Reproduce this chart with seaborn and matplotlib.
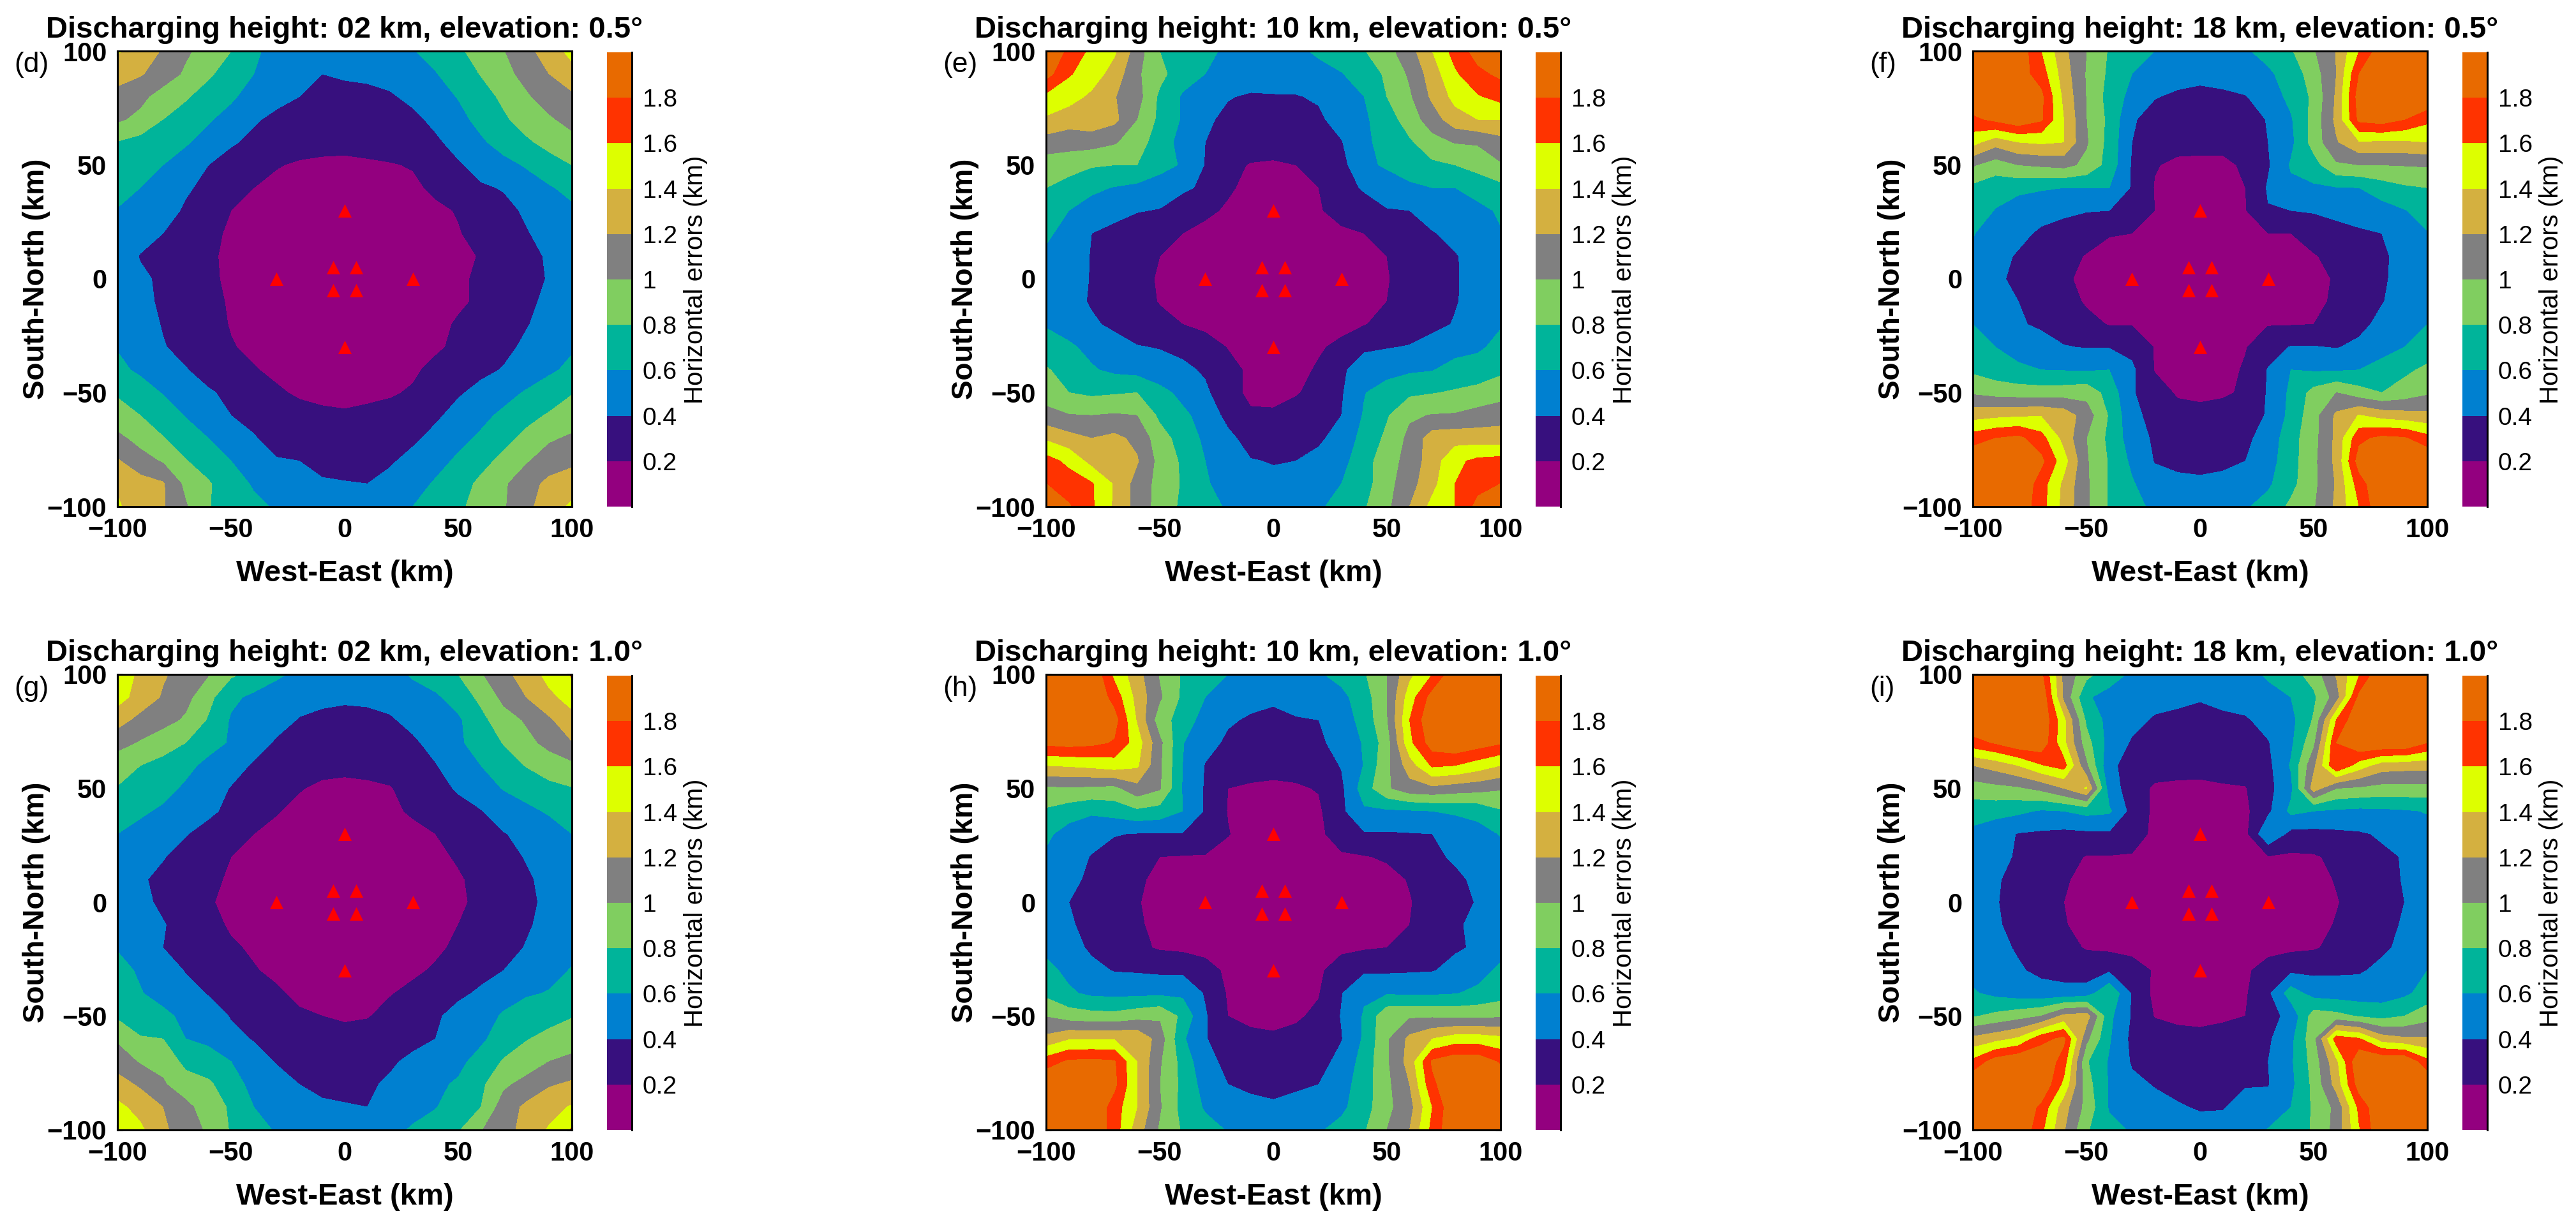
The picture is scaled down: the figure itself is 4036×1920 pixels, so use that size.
#!/usr/bin/env python3
"""Horizontal location error maps for six discharge heights / elevations."""
import numpy as np
import matplotlib
matplotlib.use('Agg')
import matplotlib.pyplot as plt
from matplotlib.colors import ListedColormap
from matplotlib.ticker import MultipleLocator
import seaborn as sns

X_GRID = [-100, -90, -80, -70, -60, -50, -40, -30, -20, -10, 0, 10, 20, 30, 40, 50, 60, 70, 80, 90, 100]
Y_GRID = [100, 90, 80, 70, 60, 50, 40, 30, 20, 10, 0, -10, -20, -30, -40, -50, -60, -70, -80, -90, -100]
LEVELS = [0, .2, .4, .6, .8, 1, 1.2, 1.4, 1.6, 1.8, 2]
LEVEL_COLORS = ['#93007f', '#37107e', '#0080d0', '#00b49a', '#80ce60',
                '#808080', '#d4b040', '#ddff00', '#ff3300', '#e86a00']
BAR_TICKS = [.2, .4, .6, .8, 1, 1.2, 1.4, 1.6, 1.8]
BAR_LABELS = ['0.2', '0.4', '0.6', '0.8', '1', '1.2', '1.4', '1.6', '1.8']
STATION_X = [-30, 30, 0, 0, -5, 5, -5, 5]
STATION_Y = [0, 0, 30, -30, 5, 5, -5, -5]

# errors in 0.01 km, rows follow Y_GRID, columns follow X_GRID
Z_D = [[142, 132, 118, 103, 92, 80, 62, 56, 52, 48, 46, 48, 52, 59, 67, 77, 87, 99, 114, 130, 146],
       [127, 122, 110, 97, 83, 71, 60, 54, 48, 40, 42, 43, 46, 52, 59, 69, 81, 93, 107, 120, 133],
       [114, 105, 92, 82, 72, 63, 52, 45, 40, 37, 35, 36, 38, 44, 52, 61, 72, 84, 97, 110, 116],
       [103, 95, 80, 72, 62, 53, 42, 36, 32, 30, 29, 30, 32, 36, 44, 54, 66, 77, 88, 97, 107],
       [79, 73, 69, 62, 53, 42, 36, 31, 27, 25, 24, 25, 27, 31, 37, 46, 57, 68, 77, 86, 93],
       [73, 67, 60, 52, 40, 33, 26, 21, 18, 17, 17, 18, 19, 21, 31, 38, 46, 54, 62, 72, 80],
       [67, 60, 52, 42, 36, 29, 20, 16, 14, 14, 14, 14, 15, 17, 23, 33, 38, 41, 50, 58, 66],
       [59, 53, 46, 38, 30, 20, 16, 13, 11, 11, 11, 11, 12, 14, 17, 21, 29, 36, 42, 50, 56],
       [55, 48, 40, 33, 25, 17, 14, 11, 9, 8, 8, 8, 9, 11, 14, 19, 25, 32, 39, 45, 52],
       [52, 39, 33, 29, 23, 16, 12, 9, 7, 6, 6, 6, 7, 8, 11, 16, 21, 28, 35, 42, 50],
       [48, 43, 37, 31, 24, 16, 12, 9, 7, 6, 5, 5, 6, 8, 11, 17, 23, 29, 35, 41, 48],
       [52, 45, 37, 31, 25, 18, 13, 10, 8, 7, 6, 7, 8, 10, 13, 17, 23, 29, 35, 45, 50],
       [54, 47, 39, 33, 26, 19, 15, 12, 10, 9, 8, 9, 10, 12, 15, 22, 28, 33, 39, 46, 52],
       [59, 52, 41, 35, 29, 21, 17, 14, 12, 11, 10, 11, 12, 14, 17, 24, 30, 36, 43, 50, 58],
       [64, 57, 49, 41, 33, 26, 21, 17, 15, 14, 13, 14, 15, 17, 25, 31, 36, 41, 48, 57, 64],
       [78, 68, 59, 50, 42, 36, 27, 22, 18, 16, 15, 16, 18, 22, 31, 38, 45, 53, 62, 69, 79],
       [87, 80, 70, 59, 50, 40, 36, 30, 25, 23, 22, 24, 26, 31, 37, 46, 55, 64, 74, 82, 89],
       [105, 93, 81, 69, 60, 50, 41, 35, 30, 28, 27, 29, 31, 37, 45, 55, 63, 74, 85, 97, 103],
       [122, 108, 98, 81, 71, 60, 50, 41, 40, 35, 33, 35, 38, 45, 54, 63, 74, 85, 98, 110, 115],
       [138, 128, 122, 95, 82, 68, 58, 49, 45, 42, 41, 40, 45, 53, 62, 72, 84, 97, 112, 125, 132],
       [142, 132, 122, 102, 81, 72, 64, 58, 53, 49, 47, 48, 52, 60, 68, 76, 88, 98, 114, 132, 143]]
Z_E = [[200, 175, 155, 143, 110, 80, 72, 64, 57, 53, 50, 56, 63, 71, 79, 93, 112, 140, 168, 188, 200],
       [188, 162, 150, 132, 103, 86, 68, 60, 54, 49, 47, 49, 54, 59, 70, 83, 103, 130, 157, 175, 184],
       [155, 148, 136, 121, 108, 76, 58, 50, 41, 38, 39, 39, 42, 52, 60, 80, 97, 124, 146, 158, 167],
       [137, 129, 133, 125, 100, 75, 58, 43, 36, 33, 33, 34, 37, 47, 57, 70, 90, 110, 132, 140, 140],
       [111, 108, 108, 102, 89, 70, 53, 40, 33, 28, 27, 29, 33, 39, 56, 67, 77, 93, 101, 102, 112],
       [90, 88, 82, 80, 80, 67, 58, 39, 24, 19, 18, 20, 25, 34, 55, 63, 73, 76, 80, 88, 98],
       [80, 72, 64, 59, 55, 50, 42, 38, 22, 16, 13, 15, 20, 33, 42, 48, 55, 60, 60, 66, 74],
       [67, 60, 52, 47, 41, 39, 34, 23, 18, 13, 10, 12, 19, 24, 32, 39, 40, 47, 52, 56, 62],
       [63, 54, 40, 34, 30, 25, 20, 16, 12, 9, 8, 9, 12, 18, 20, 28, 34, 39, 44, 52, 59],
       [57, 49, 39, 33, 28, 20, 16, 12, 9, 7, 6, 7, 9, 12, 16, 20, 27, 33, 39, 45, 53],
       [52, 47, 39, 31, 26, 18, 15, 11, 8, 6, 5, 6, 8, 11, 15, 19, 26, 32, 39, 44, 50],
       [50, 47, 38, 33, 27, 19, 17, 12, 9, 7, 6, 7, 9, 12, 16, 20, 27, 33, 39, 45, 52],
       [58, 52, 43, 36, 30, 25, 20, 14, 11, 9, 8, 9, 12, 15, 19, 26, 31, 36, 41, 50, 58],
       [70, 63, 55, 48, 41, 39, 34, 31, 19, 13, 11, 12, 18, 24, 38, 39, 41, 46, 52, 56, 67],
       [82, 72, 62, 56, 53, 48, 45, 37, 27, 16, 13, 15, 22, 38, 46, 52, 57, 59, 68, 71, 76],
       [90, 80, 76, 78, 80, 66, 55, 44, 25, 17, 16, 19, 24, 38, 59, 70, 76, 79, 82, 85, 91],
       [107, 101, 100, 102, 100, 76, 64, 53, 34, 22, 22, 25, 28, 40, 62, 78, 97, 101, 102, 108, 113],
       [137, 127, 120, 125, 115, 88, 72, 56, 45, 32, 30, 33, 37, 47, 67, 84, 105, 130, 132, 130, 128],
       [168, 155, 133, 128, 122, 93, 77, 60, 44, 41, 39, 40, 45, 53, 73, 90, 108, 130, 155, 165, 168],
       [180, 170, 162, 138, 112, 93, 78, 62, 53, 47, 44, 46, 52, 60, 72, 93, 112, 134, 160, 173, 180],
       [192, 182, 163, 137, 112, 92, 76, 66, 58, 53, 50, 52, 58, 65, 78, 95, 120, 146, 160, 186, 198]]
Z_F = [[210, 205, 195, 160, 125, 100, 78, 68, 60, 53, 47, 50, 58, 66, 78, 98, 121, 160, 192, 205, 210],
       [210, 205, 190, 170, 130, 98, 76, 60, 52, 47, 44, 46, 52, 57, 68, 90, 120, 180, 205, 205, 205],
       [205, 205, 195, 185, 135, 99, 72, 54, 41, 37, 36, 37, 39, 50, 65, 84, 123, 190, 205, 205, 205],
       [175, 185, 195, 183, 140, 100, 75, 42, 33, 31, 31, 31, 33, 41, 58, 87, 125, 185, 190, 180, 165],
       [147, 128, 140, 143, 140, 102, 73, 40, 30, 25, 24, 24, 29, 40, 55, 88, 118, 138, 137, 137, 140],
       [102, 90, 100, 103, 106, 95, 72, 38, 21, 17, 17, 17, 22, 38, 62, 72, 97, 100, 100, 101, 102],
       [75, 68, 65, 62, 60, 60, 60, 38, 19, 15, 14, 14, 20, 42, 56, 57, 59, 60, 70, 77, 80],
       [70, 59, 50, 47, 45, 41, 40, 38, 20, 11, 10, 11, 19, 39, 40, 42, 47, 49, 52, 59, 68],
       [61, 51, 45, 37, 30, 27, 21, 20, 14, 9, 8, 9, 15, 20, 20, 26, 31, 37, 40, 50, 59],
       [57, 46, 38, 31, 25, 19, 15, 12, 10, 7, 6, 7, 10, 13, 15, 19, 24, 30, 37, 46, 54],
       [54, 44, 35, 29, 22, 17, 13, 11, 9, 6, 5, 6, 9, 11, 13, 17, 21, 29, 38, 45, 52],
       [56, 46, 40, 33, 27, 18, 14, 11, 10, 7, 6, 7, 10, 12, 14, 17, 22, 30, 39, 48, 55],
       [60, 52, 42, 37, 31, 25, 19, 19, 14, 9, 8, 9, 15, 19, 19, 20, 28, 35, 45, 53, 60],
       [67, 60, 54, 48, 41, 39, 39, 34, 19, 11, 10, 11, 19, 32, 41, 41, 39, 44, 52, 60, 69],
       [76, 69, 63, 60, 59, 58, 60, 44, 19, 14, 13, 14, 22, 41, 60, 58, 58, 60, 68, 76, 84],
       [97, 92, 90, 89, 90, 93, 72, 42, 28, 18, 17, 18, 22, 42, 64, 87, 100, 88, 80, 88, 97],
       [132, 135, 137, 139, 132, 110, 78, 45, 34, 26, 24, 26, 30, 42, 66, 92, 124, 141, 132, 128, 125],
       [170, 180, 185, 168, 133, 100, 75, 50, 37, 30, 30, 30, 36, 48, 72, 93, 125, 175, 185, 182, 167],
       [205, 205, 205, 185, 148, 102, 78, 56, 39, 36, 35, 36, 40, 52, 72, 95, 125, 190, 205, 205, 200],
       [210, 208, 205, 170, 135, 103, 78, 62, 48, 44, 43, 45, 49, 57, 74, 95, 122, 170, 205, 210, 210],
       [210, 208, 195, 168, 133, 103, 78, 66, 56, 50, 47, 50, 58, 67, 84, 98, 124, 160, 200, 210, 210]]
Z_G = [[155, 135, 122, 113, 101, 83, 74, 63, 56, 49, 45, 47, 53, 62, 70, 80, 98, 115, 128, 147, 162],
       [148, 132, 118, 106, 86, 64, 56, 51, 46, 43, 42, 43, 46, 53, 57, 68, 85, 105, 120, 135, 148],
       [128, 114, 107, 97, 78, 58, 53, 46, 39, 37, 36, 36, 38, 45, 54, 57, 74, 92, 102, 117, 133],
       [107, 98, 88, 80, 67, 58, 47, 38, 33, 30, 30, 30, 32, 37, 46, 57, 68, 81, 95, 105, 119],
       [88, 80, 74, 65, 55, 47, 38, 32, 26, 25, 24, 25, 27, 32, 39, 50, 60, 70, 81, 91, 95],
       [79, 70, 66, 57, 48, 39, 33, 27, 21, 17, 16, 17, 19, 26, 34, 42, 52, 61, 67, 74, 79],
       [68, 63, 57, 50, 44, 35, 25, 21, 16, 14, 13, 14, 17, 22, 26, 34, 39, 50, 56, 62, 67],
       [60, 54, 48, 41, 33, 27, 20, 16, 13, 11, 10, 11, 12, 16, 20, 28, 34, 39, 45, 52, 60],
       [56, 48, 41, 34, 28, 20, 16, 13, 10, 9, 8, 9, 10, 12, 16, 22, 29, 35, 41, 47, 53],
       [52, 42, 36, 31, 25, 17, 13, 10, 8, 7, 6, 7, 9, 11, 14, 18, 25, 32, 38, 44, 49],
       [50, 44, 37, 30, 22, 15, 12, 9, 7, 6, 5, 6, 8, 10, 13, 17, 24, 30, 37, 43, 48],
       [53, 47, 41, 34, 25, 18, 13, 10, 8, 7, 6, 7, 9, 11, 14, 20, 25, 31, 38, 45, 50],
       [59, 52, 40, 35, 29, 22, 18, 14, 12, 10, 9, 9, 12, 14, 17, 23, 29, 34, 41, 48, 56],
       [65, 58, 49, 39, 32, 26, 21, 17, 14, 12, 11, 12, 14, 17, 22, 29, 34, 40, 48, 55, 61],
       [72, 61, 54, 46, 39, 33, 27, 22, 17, 15, 14, 15, 19, 24, 30, 36, 43, 53, 58, 61, 65],
       [77, 73, 64, 56, 47, 39, 33, 26, 22, 20, 18, 19, 25, 31, 37, 47, 53, 62, 69, 74, 79],
       [97, 81, 80, 60, 55, 44, 39, 33, 29, 26, 25, 27, 31, 36, 40, 50, 57, 68, 79, 85, 89],
       [111, 98, 95, 74, 70, 60, 47, 39, 34, 32, 31, 33, 38, 43, 48, 56, 66, 82, 89, 100, 106],
       [128, 117, 102, 90, 83, 70, 53, 46, 40, 37, 36, 38, 42, 50, 57, 62, 76, 96, 107, 118, 123],
       [145, 133, 120, 105, 91, 77, 60, 51, 46, 42, 41, 40, 46, 54, 59, 70, 80, 110, 124, 133, 142],
       [158, 144, 124, 109, 97, 78, 68, 58, 53, 47, 45, 47, 55, 62, 70, 78, 99, 111, 128, 142, 162]]
Z_H = [[210, 210, 205, 155, 128, 98, 78, 67, 60, 52, 46, 50, 58, 66, 78, 100, 135, 160, 195, 210, 210],
       [210, 210, 205, 172, 133, 103, 76, 60, 52, 45, 42, 45, 48, 55, 70, 100, 150, 188, 210, 210, 210],
       [210, 210, 205, 188, 138, 88, 72, 51, 42, 38, 37, 39, 40, 50, 67, 98, 160, 198, 210, 210, 210],
       [185, 188, 185, 178, 150, 105, 61, 46, 37, 33, 32, 33, 37, 46, 62, 90, 155, 190, 197, 190, 182],
       [140, 142, 145, 150, 143, 103, 60, 39, 31, 26, 25, 26, 31, 41, 61, 95, 130, 163, 160, 150, 140],
       [96, 98, 96, 94, 113, 102, 59, 38, 20, 18, 17, 18, 21, 36, 70, 97, 112, 115, 110, 107, 102],
       [77, 69, 63, 68, 76, 72, 60, 38, 19, 14, 13, 14, 17, 36, 57, 57, 58, 60, 63, 66, 78],
       [64, 52, 47, 41, 39, 39, 39, 38, 21, 11, 10, 11, 17, 27, 38, 38, 39, 40, 46, 53, 61],
       [57, 48, 39, 33, 25, 20, 19, 18, 13, 9, 8, 8, 9, 18, 19, 22, 28, 37, 42, 45, 53],
       [53, 45, 36, 30, 22, 17, 13, 10, 8, 7, 6, 6, 7, 9, 11, 15, 21, 29, 37, 43, 50],
       [50, 40, 33, 27, 21, 15, 12, 9, 6, 5, 5, 5, 6, 8, 10, 14, 19, 27, 35, 41, 48],
       [50, 42, 35, 29, 22, 16, 12, 9, 7, 6, 6, 6, 7, 9, 11, 15, 20, 29, 37, 45, 50],
       [55, 47, 37, 31, 24, 18, 16, 15, 10, 8, 8, 8, 10, 16, 18, 20, 26, 33, 38, 42, 53],
       [66, 55, 45, 39, 38, 36, 36, 26, 17, 11, 10, 11, 17, 29, 37, 37, 38, 39, 45, 53, 64],
       [75, 63, 56, 55, 55, 56, 56, 38, 18, 14, 13, 15, 19, 39, 57, 58, 57, 57, 59, 64, 71],
       [99, 90, 87, 86, 92, 97, 75, 42, 20, 17, 16, 18, 23, 41, 62, 95, 97, 97, 95, 95, 97],
       [125, 138, 138, 139, 138, 110, 63, 41, 31, 23, 22, 24, 29, 39, 63, 97, 125, 140, 150, 150, 145],
       [170, 183, 185, 182, 140, 102, 73, 45, 36, 29, 28, 30, 33, 46, 68, 97, 128, 183, 193, 193, 177],
       [205, 210, 210, 185, 140, 100, 75, 52, 40, 37, 36, 38, 40, 52, 70, 95, 120, 175, 210, 210, 210],
       [210, 210, 210, 170, 140, 102, 73, 58, 50, 44, 42, 44, 48, 56, 71, 95, 112, 160, 210, 210, 210],
       [210, 210, 205, 170, 130, 97, 78, 66, 59, 51, 47, 50, 58, 66, 78, 100, 120, 166, 205, 210, 210]]
Z_I = [[210, 210, 205, 185, 115, 86, 68, 57, 50, 45, 43, 46, 52, 63, 72, 88, 122, 158, 205, 215, 215],
       [210, 210, 210, 205, 115, 62, 54, 50, 46, 43, 41, 44, 48, 53, 60, 76, 110, 185, 215, 215, 215],
       [210, 210, 210, 205, 145, 76, 53, 45, 38, 37, 36, 37, 38, 46, 54, 82, 160, 205, 220, 220, 220],
       [172, 182, 195, 195, 145, 88, 52, 38, 34, 32, 32, 32, 34, 39, 56, 95, 180, 205, 210, 200, 180],
       [120, 128, 140, 158, 168, 103, 44, 33, 29, 27, 26, 27, 29, 35, 62, 115, 180, 150, 130, 128, 127],
       [90, 94, 97, 105, 120, 142, 50, 30, 17, 16, 16, 18, 19, 34, 55, 130, 100, 97, 93, 93, 93],
       [69, 67, 64, 58, 60, 66, 63, 33, 16, 14, 13, 14, 16, 36, 65, 60, 57, 55, 56, 58, 61],
       [55, 47, 39, 37, 35, 36, 37, 31, 15, 11, 10, 11, 15, 58, 34, 34, 36, 38, 42, 48, 54],
       [52, 45, 38, 32, 26, 19, 19, 18, 12, 9, 8, 9, 11, 19, 17, 18, 24, 31, 37, 41, 48],
       [49, 42, 34, 28, 22, 15, 12, 9, 8, 7, 6, 7, 8, 10, 11, 15, 21, 28, 35, 41, 46],
       [46, 41, 34, 27, 20, 14, 10, 8, 6, 5, 5, 5, 6, 8, 10, 14, 19, 26, 33, 40, 44],
       [47, 42, 35, 28, 21, 15, 11, 9, 7, 6, 6, 6, 7, 9, 11, 15, 21, 27, 34, 42, 47],
       [50, 45, 38, 30, 24, 19, 16, 14, 11, 9, 8, 9, 11, 14, 16, 18, 25, 31, 37, 44, 50],
       [54, 48, 42, 36, 32, 28, 37, 29, 18, 11, 10, 11, 17, 28, 36, 36, 37, 38, 44, 52, 60],
       [62, 55, 50, 47, 47, 50, 78, 38, 15, 13, 13, 14, 18, 36, 70, 52, 50, 49, 50, 56, 68],
       [78, 85, 92, 100, 125, 130, 65, 38, 19, 16, 16, 17, 20, 34, 45, 90, 86, 78, 73, 80, 92],
       [125, 133, 143, 172, 185, 105, 62, 35, 30, 26, 24, 27, 31, 37, 55, 93, 170, 162, 130, 123, 122],
       [165, 190, 205, 210, 170, 82, 58, 38, 34, 31, 30, 32, 35, 40, 57, 88, 135, 200, 205, 200, 165],
       [205, 210, 210, 210, 155, 88, 58, 44, 39, 37, 36, 36, 39, 39, 55, 85, 128, 190, 210, 210, 210],
       [210, 210, 210, 175, 128, 93, 58, 50, 45, 41, 39, 39, 45, 48, 60, 83, 105, 165, 210, 210, 210],
       [210, 210, 205, 165, 122, 82, 66, 58, 50, 45, 44, 46, 52, 61, 69, 82, 107, 158, 205, 210, 210]]

TITLES = ['Discharging height: 02 km, elevation: 0.5°', 'Discharging height: 10 km, elevation: 0.5°',
          'Discharging height: 18 km, elevation: 0.5°', 'Discharging height: 02 km, elevation: 1.0°',
          'Discharging height: 10 km, elevation: 1.0°', 'Discharging height: 18 km, elevation: 1.0°']
PANELS = ['(d)', '(e)', '(f)', '(g)', '(h)', '(i)']
TABLES = [Z_D, Z_E, Z_F, Z_G, Z_H, Z_I]

W, H = 4037, 1920
LEFTS = [184, 1639, 3091]
TOPS = [80, 1057]
AX_W, AX_H = 712, 714
FONTS = ['Liberation Sans', 'DejaVu Sans']
BOLD = {'family': FONTS, 'fontweight': 'bold'}


def add_px(fig, left, top, width, height):
    return fig.add_axes([left / W, 1 - (top + height) / H, width / W, height / H])


def draw_panel(fig, i):
    left, top = LEFTS[i % 3], TOPS[i // 3]
    ax = add_px(fig, left, top, AX_W, AX_H)
    # anything above the last level still falls in the orange band
    z = np.clip(np.array(TABLES[i]) / 100, 0, 1.99)
    cf = ax.contourf(X_GRID, Y_GRID, z, levels=LEVELS, cmap=ListedColormap(LEVEL_COLORS))
    sns.scatterplot(x=STATION_X, y=STATION_Y, ax=ax, marker='^', color='#ff0000',
                    s=230, linewidth=0, legend=False, zorder=5)
    ax.set_xlim(-100, 100)
    ax.set_ylim(-100, 100)
    ax.set_xticks([-100, -50, 0, 50, 100])
    ax.set_yticks([-100, -50, 0, 50, 100])
    ax.xaxis.set_minor_locator(MultipleLocator(10))
    ax.yaxis.set_minor_locator(MultipleLocator(10))
    ax.tick_params(which='major', direction='in', top=True, right=True, length=6, width=2.2, pad=12)
    ax.tick_params(which='minor', direction='in', top=True, right=True, length=3.5, width=2)
    for label in ax.get_xticklabels() + ax.get_yticklabels():
        label.set(fontsize=30, **BOLD)
    for spine in ax.spines.values():
        spine.set_linewidth(2.2)
        spine.set_zorder(10)
    ax.set_title(TITLES[i], fontsize=34, pad=15, **BOLD)
    ax.set_xlabel('West-East (km)', fontsize=34, labelpad=19, **BOLD)
    ax.set_ylabel('South-North (km)', fontsize=33, labelpad=-4, **BOLD)
    fig.text((left - 162) / W, 1 - (top + 22) / H, PANELS[i], fontsize=32,
             ha='left', va='center', family=FONTS)

    cax = add_px(fig, left + 767, top + 2, 39, AX_H - 2)
    cbar = fig.colorbar(cf, cax=cax, ticks=BAR_TICKS)
    cbar.outline.set_visible(False)
    cax.spines['right'].set_visible(True)
    cax.spines['right'].set_linewidth(2.2)
    cax.set_yticklabels(BAR_LABELS, fontsize=28, family=FONTS)
    cax.tick_params(axis='y', direction='in', length=6, width=2.2, pad=12)
    cax.minorticks_off()
    fig.text((left + 906) / W, 1 - (top + 358) / H, 'Horizontal errors (km)', rotation=90,
             fontsize=29, ha='center', va='center', family=FONTS)


def main():
    sns.set_theme(style='ticks', rc={'text.color': 'black', 'axes.labelcolor': 'black',
                                     'xtick.color': 'black', 'ytick.color': 'black',
                                     'axes.edgecolor': 'black'})
    fig = plt.figure(figsize=(W / 100, H / 100), dpi=100, facecolor='white')
    for i in range(6):
        draw_panel(fig, i)
    fig.savefig('out.png', dpi=100)


if __name__ == '__main__':
    main()
